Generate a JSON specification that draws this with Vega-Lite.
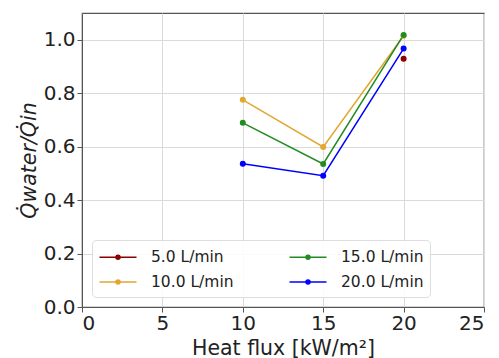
{
  "$schema": "https://vega.github.io/schema/vega-lite/v6.json",
  "width": 402,
  "height": 294,
  "autosize": {"type": "none"},
  "padding": {"left": 82, "top": 13, "right": 15, "bottom": 51},
  "background": "white",
  "config": {
    "font": "DejaVu Sans",
    "view": {"stroke": "#555", "strokeWidth": 1.2},
    "axis": {
      "labelFont": "DejaVu Sans",
      "titleFont": "DejaVu Sans",
      "labelFontSize": 20,
      "titleFontSize": 20.5,
      "titleFontWeight": "normal",
      "labelColor": "#222",
      "titleColor": "#222",
      "gridColor": "#dadada",
      "gridWidth": 1,
      "domainColor": "#555",
      "tickColor": "#555",
      "tickSize": 5
    }
  },
  "data": {
    "values": [
      {"flux": 20, "ratio": 0.929, "rate": "5.0 L/min"},
      {"flux": 10, "ratio": 0.775, "rate": "10.0 L/min"},
      {"flux": 15, "ratio": 0.599, "rate": "10.0 L/min"},
      {"flux": 20, "ratio": 1.015, "rate": "10.0 L/min"},
      {"flux": 10, "ratio": 0.689, "rate": "15.0 L/min"},
      {"flux": 15, "ratio": 0.535, "rate": "15.0 L/min"},
      {"flux": 20, "ratio": 1.018, "rate": "15.0 L/min"},
      {"flux": 10, "ratio": 0.536, "rate": "20.0 L/min"},
      {"flux": 15, "ratio": 0.491, "rate": "20.0 L/min"},
      {"flux": 20, "ratio": 0.967, "rate": "20.0 L/min"}
    ]
  },
  "encoding": {
    "x": {
      "field": "flux", "type": "quantitative",
      "scale": {"domain": [0, 25], "nice": false},
      "axis": {"values": [0, 5, 10, 15, 20, 25], "title": "Heat flux [kW/m²]", "titlePadding": 5, "labelPadding": 1}
    },
    "y": {
      "field": "ratio", "type": "quantitative",
      "scale": {"domain": [0, 1.1], "nice": false},
      "axis": {"values": [0, 0.2, 0.4, 0.6, 0.8, 1.0], "format": ".1f", "title": "Q̇water/Q̇in", "titleFontStyle": "italic", "titlePadding": 4, "labelPadding": 2}
    },
    "color": {
      "field": "rate", "type": "nominal",
      "scale": {
        "domain": ["5.0 L/min", "10.0 L/min", "15.0 L/min", "20.0 L/min"],
        "range": ["#8b0000", "#e0a830", "#228b22", "#0000ff"]
      },
      "legend": {
        "title": null,
        "orient": "none",
        "legendX": 10,
        "legendY": 227,
        "columns": 2,
        "columnPadding": 52,
        "rowPadding": 5,
        "padding": 6,
        "fillColor": "rgba(255,255,255,0.85)",
        "strokeColor": "#dddddd",
        "cornerRadius": 4,
        "labelFont": "DejaVu Sans",
        "labelFontSize": 15.5,
        "labelColor": "#222",
        "labelOffset": 22,
        "symbolOffset": 9,
        "symbolType": "M-1.85,0H1.85M-0.2,0A0.2,0.2 0 1 1 0.2,0A0.2,0.2 0 1 1 -0.2,0Z",
        "symbolSize": 400,
        "symbolStrokeWidth": 1.5,
        "encode": {
          "symbols": {
            "update": {
              "fill": {"scale": "color", "field": "value"},
              "stroke": {"scale": "color", "field": "value"},
              "fillOpacity": {"value": 1},
              "opacity": {"value": 1}
            }
          }
        }
      }
    }
  },
  "layer": [
    {"mark": {"type": "line", "strokeWidth": 1.5}},
    {"mark": {"type": "point", "filled": true, "size": 36, "opacity": 1}}
  ]
}
